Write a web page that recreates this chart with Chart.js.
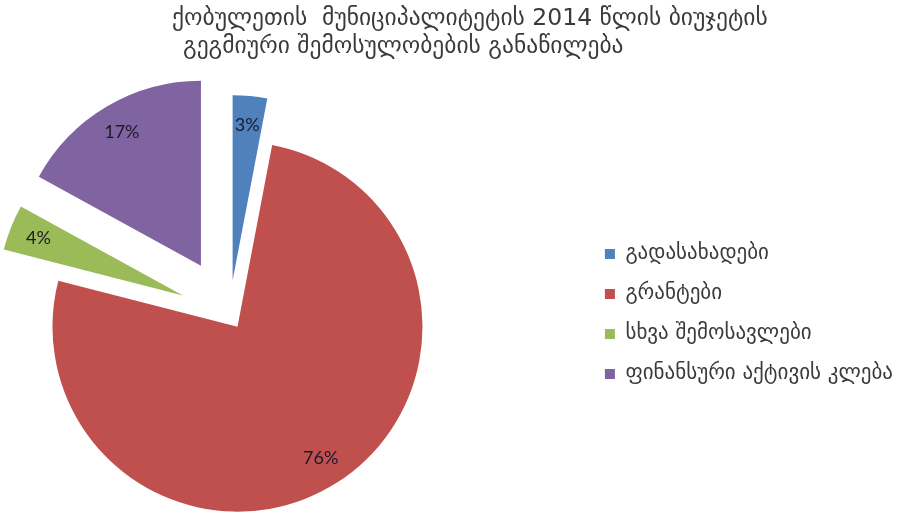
<!DOCTYPE html>
<html>
<head>
<meta charset="utf-8">
<script src="https://cdn.jsdelivr.net/npm/chart.js@4.4.0/dist/chart.umd.min.js"></script>
<style>
  html, body { margin: 0; padding: 0; background: #fff; overflow: hidden; }
  body { position: relative; width: 897px; height: 515px; }
  /* canvas starts left of the window so the pie can sit near the left edge */
  #wrap { position: absolute; left: -127px; top: 0; width: 1040px; height: 515px; }
</style>
</head>
<body>
<div id="wrap"><canvas id="budgetChart"></canvas></div>
<script>
const titleLines = ['ქობულეთის  მუნიციპალიტეტის 2014 წლის ბიუჯეტის', 'გეგმიური შემოსულობების განაწილება'];
const categories = ['გადასახადები', 'გრანტები', 'სხვა შემოსავლები', 'ფინანსური აქტივის კლება'];
const shares = [3, 76, 4, 17];

const sliceColors = ['#4F81BD', '#C0504D', '#9BBB59', '#8064A2'];
const explodePx = [34, 15, 50, 56];   // how far each slice is pulled out
const shiftX = 127;                    // same as #wrap left

// chart.js also grows small exploded slices, we only want them shifted
const flatExplode = {
    id: 'flatExplode',
    beforeDatasetDraw(chart, args) {
        args.meta.data.forEach(arc => {
            arc._circ = arc.circumference;
            arc.circumference = Math.PI / 2;
        });
    },
    afterDatasetDraw(chart, args) {
        args.meta.data.forEach(arc => {
            arc.circumference = arc._circ;
        });
    }
};

// percent labels inside the slices
const sliceLabels = {
    id: 'sliceLabels',
    afterDatasetsDraw(chart) {
        const ctx = chart.ctx;
        const meta = chart.getDatasetMeta(0);
        const total = shares.reduce((a, b) => a + b, 0);
        ctx.save();
        ctx.font = '18px Lato';
        ctx.fillStyle = '#1c1a2c';
        ctx.textAlign = 'center';
        ctx.textBaseline = 'middle';
        meta.data.forEach((arc, i) => {
            const mid = (arc.startAngle + arc.endAngle) / 2;
            const r = arc.options.offset / 4 + arc.outerRadius * 0.84;
            const pct = Math.round(shares[i] / total * 100) + '%';
            ctx.fillText(pct, arc.x + Math.cos(mid) * r, arc.y + Math.sin(mid) * r);
        });
        ctx.restore();
    }
};

// two line title, left aligned with a small indent on the second line
const leftTitle = {
    id: 'leftTitle',
    afterDraw(chart) {
        const ctx = chart.ctx;
        ctx.save();
        ctx.font = '23.5px "DejaVu Sans"';
        ctx.fillStyle = '#3a3a3a';
        ctx.textAlign = 'left';
        ctx.textBaseline = 'middle';
        ctx.fillText(titleLines[0], shiftX + 172, 19);
        ctx.fillText(titleLines[1], shiftX + 183, 47);
        ctx.restore();
    }
};

const ctx = document.getElementById('budgetChart').getContext('2d');

const budgetChart = new Chart(ctx, {
    type: 'pie',
    data: {
        labels: categories,
        datasets: [{
            data: shares,
            backgroundColor: sliceColors,
            borderWidth: 0,
            offset: explodePx.map(px => px * 4),   // arcs move by offset / 4
            radius: 185
        }]
    },
    options: {
        responsive: true,
        maintainAspectRatio: false,
        animation: false,
        events: [],
        layout: {
            padding: { left: 0, right: 10, top: 113, bottom: 0 }
        },
        plugins: {
            title: { display: false },
            legend: {
                position: 'right',
                labels: {
                    boxWidth: 10,
                    boxHeight: 10,
                    padding: 19,
                    color: '#3a3a3a',
                    font: { family: 'DejaVu Sans', size: 21 }
                }
            },
            tooltip: { enabled: false }
        }
    },
    plugins: [flatExplode, sliceLabels, leftTitle]
});
</script>
</body>
</html>
